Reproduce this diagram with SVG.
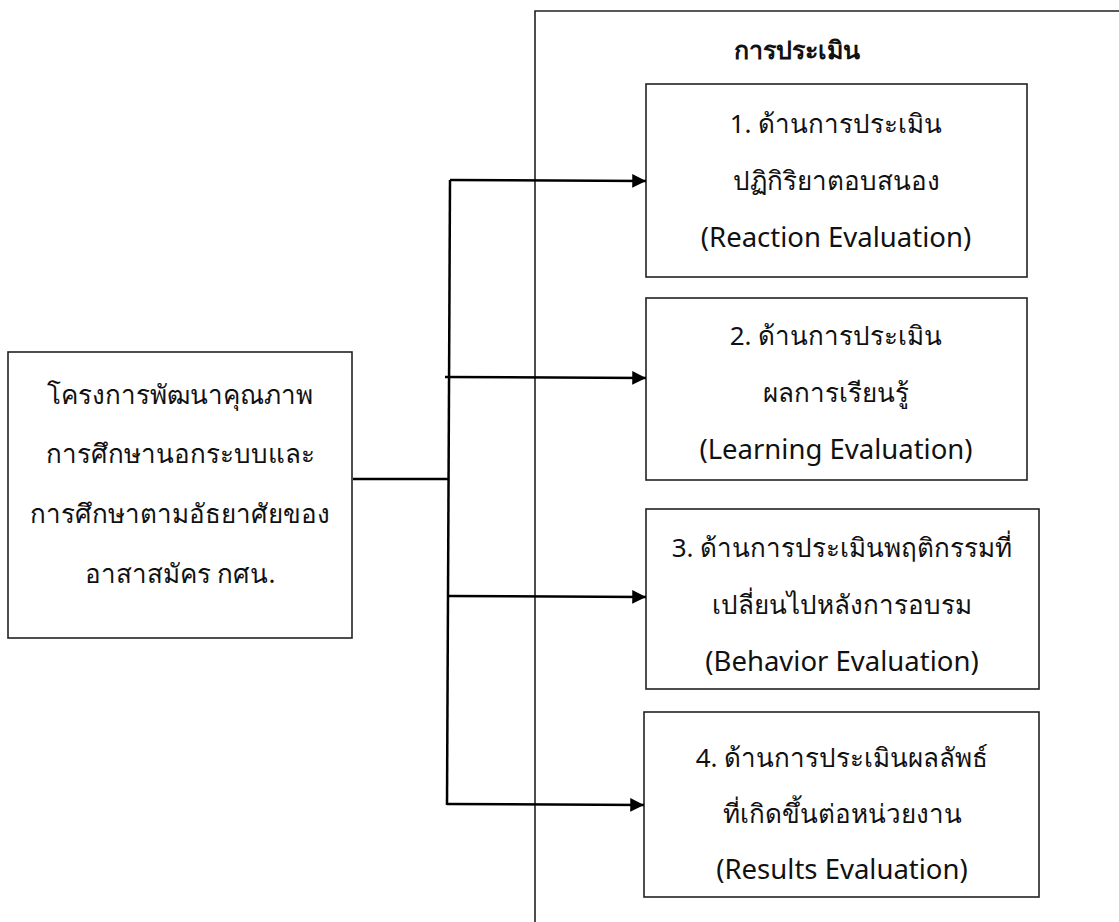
<svg xmlns="http://www.w3.org/2000/svg" width="1119" height="922" viewBox="0 0 1119 922">
<defs>
<style>
.box{fill:#fff;stroke:#222;stroke-width:1.6}
.frame{fill:none;stroke:#222;stroke-width:1.6}
.t{font-family:"Noto Sans","DejaVu Sans",sans-serif;font-size:26px;fill:#111;text-anchor:middle}
.e{font-size:27.5px}
.title{font-family:"Noto Sans","DejaVu Sans",sans-serif;font-size:25px;font-weight:bold;fill:#111;text-anchor:middle}
.c{fill:none;stroke:#000;stroke-width:2.5}
</style>
<marker id="ah" viewBox="0 0 10 10" refX="10" refY="5" markerWidth="5.5" markerHeight="5.5" markerUnits="strokeWidth" orient="auto">
<path d="M0,0 L10,5 L0,10 z" fill="#000"/>
</marker>
</defs>
<rect width="1119" height="922" fill="#fff"/>
<g id="container">
<path class="frame" d="M535,930 V11 H1125"/>
<text class="title" x="797" y="59">การประเมิน</text>
</g>
<g id="source">
<rect class="box" x="8" y="352" width="344" height="286"/>
<text class="t" x="180" y="404">โครงการพัฒนาคุณภาพ</text>
<text class="t" x="180" y="463">การศึกษานอกระบบและ</text>
<text class="t" x="180" y="523">การศึกษาตามอัธยาศัยของ</text>
<text class="t" x="180" y="583">อาสาสมัคร กศน.</text>
</g>
<g id="reaction">
<rect class="box" x="646" y="84" width="381" height="193"/>
<text class="t" x="836" y="133">1. ด้านการประเมิน</text>
<text class="t" x="836" y="190">ปฏิกิริยาตอบสนอง</text>
<text class="t e" x="836" y="247">(Reaction Evaluation)</text>
</g>
<g id="learning">
<rect class="box" x="646" y="298" width="381" height="182"/>
<text class="t" x="836" y="345">2. ด้านการประเมิน</text>
<text class="t" x="836" y="402">ผลการเรียนรู้</text>
<text class="t e" x="836" y="459">(Learning Evaluation)</text>
</g>
<g id="behavior">
<rect class="box" x="646" y="509" width="393" height="180"/>
<text class="t" x="842" y="557">3. ด้านการประเมินพฤติกรรมที่</text>
<text class="t" x="842" y="614">เปลี่ยนไปหลังการอบรม</text>
<text class="t e" x="842" y="671">(Behavior Evaluation)</text>
</g>
<g id="results">
<rect class="box" x="644" y="712" width="395" height="185"/>
<text class="t" x="842" y="767">4. ด้านการประเมินผลลัพธ์</text>
<text class="t" x="842" y="823">ที่เกิดขึ้นต่อหน่วยงาน</text>
<text class="t e" x="842" y="879">(Results Evaluation)</text>
</g>
<g id="connectors">
<path class="c" d="M353,479 H449"/>
<path class="c" d="M450,180 L447,805"/>
<path class="c" d="M450,180 L646,181" marker-end="url(#ah)"/>
<path class="c" d="M445,377 L646,378" marker-end="url(#ah)"/>
<path class="c" d="M448,596 L646,597" marker-end="url(#ah)"/>
<path class="c" d="M447,804 L644,805" marker-end="url(#ah)"/>
</g>
</svg>
